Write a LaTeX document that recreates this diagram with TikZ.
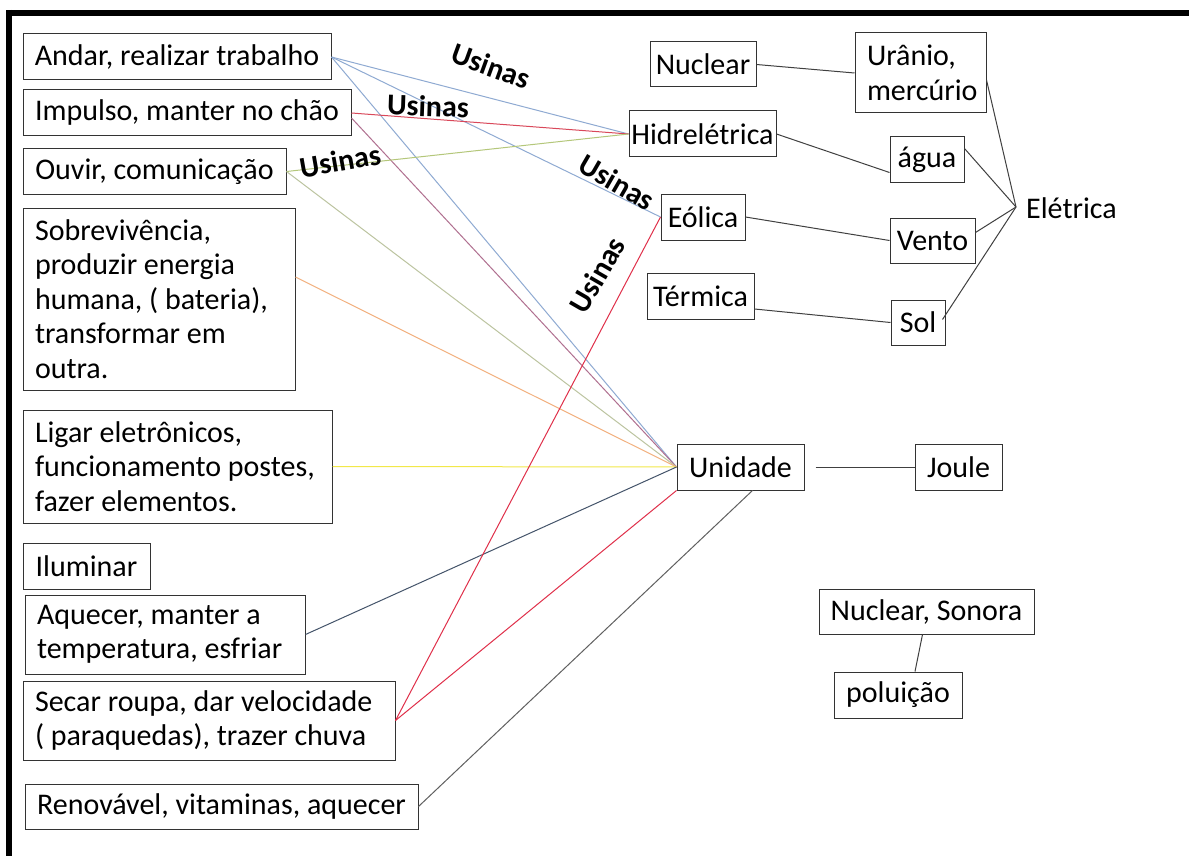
\documentclass[tikz,border=0pt]{standalone}
\usepackage{fontspec}
\setmainfont{Carlito}
\definecolor{blueL}{HTML}{8FAAD2}
\definecolor{redL}{HTML}{D9485A}
\definecolor{redS}{HTML}{E0304A}
\definecolor{roseL}{HTML}{B07090}
\definecolor{greenL}{HTML}{B4C77A}
\definecolor{greenG}{HTML}{BCC4A0}
\definecolor{orangeL}{HTML}{F2B07E}
\definecolor{yellowL}{HTML}{F2E84A}
\definecolor{darkB}{HTML}{44546A}
\definecolor{grayL}{HTML}{606060}
\definecolor{lineK}{HTML}{404040}
\begin{document}
\begin{tikzpicture}[x=1pt,y=-1pt,
  box/.style={draw=black!80, line width=1pt, rectangle, inner sep=0pt,
    font=\fontsize{30}{34.5}\selectfont},
  mbox/.style={box, align=flush left, execute at begin node={\spaceskip=0pt\xspaceskip=0pt\relax}},
  lab/.style={inner sep=0pt, font=\fontsize{30}{34}\selectfont\bfseries},
  conn/.style={line width=1pt}
]
\useasboundingbox (0,0) rectangle (1189,856);
\fill[white] (0,0) rectangle (1189,856);
% frame
\draw[line width=6pt] (6,13) -- (1189,13);
\draw[line width=6pt] (9,10) -- (9,856);

% left boxes
\node[box, minimum width=308, minimum height=46] (andar) at (177,57) {Andar, realizar trabalho};
\node[box, minimum width=328, minimum height=46] (impulso) at (187,113) {Impulso, manter no chão};
\node[box, minimum width=263, minimum height=45] (ouvir) at (154.5,171.5) {Ouvir, comunicação};
\node[mbox, minimum width=272, minimum height=182, text width=248] (sob) at (159,299) {Sobrevivência,\\produzir energia\\humana, ( bateria),\\transformar em\\outra.};
\node[mbox, minimum width=309, minimum height=113, text width=285] (ligar) at (177.5,466.5) {Ligar eletrônicos,\\funcionamento postes,\\fazer elementos.};
\node[box, minimum width=127, minimum height=46] (ilum) at (86.5,566) {Iluminar};
\node[mbox, minimum width=280, minimum height=79, text width=256] (aquecer) at (165,634.5) {Aquecer, manter a\\temperatura, esfriar};
\node[mbox, minimum width=372, minimum height=79, text width=348] (secar) at (209,720.5) {Secar roupa, dar velocidade\\( paraquedas), trazer chuva};
\node[box, minimum width=393, minimum height=45] (renov) at (221.5,806.5) {Renovável, vitaminas, aquecer};

% right boxes
\node[box, minimum width=106, minimum height=45] (nuclear) at (703,64.5) {Nuclear};
\node[mbox, minimum width=131, minimum height=80, text width=107] (uranio) at (920.5,73) {Urânio,\\mercúrio};
\node[box, minimum width=147, minimum height=46] (hidro) at (702.5,134) {Hidrelétrica};
\node[box, minimum width=74, minimum height=45] (agua) at (927,159.5) {água};
\node[box, minimum width=84, minimum height=46] (eolica) at (703,217) {Eólica};
\node[box, minimum width=85, minimum height=45] (vento) at (932.5,240.5) {Vento};
\node[box, minimum width=107, minimum height=46] (termica) at (700.5,296) {Térmica};
\node[box, minimum width=54, minimum height=45] (sol) at (918,322.5) {Sol};
\node[inner sep=0pt, font=\fontsize{30}{34}\selectfont, anchor=west] (eletrica) at (1026,208) {Elétrica};
\coordinate (ej) at (1016,207);
\node[box, minimum width=127, minimum height=46] (unidade) at (740.5,467) {Unidade};
\node[box, minimum width=87, minimum height=46] (joule) at (958.5,467) {Joule};
\node[box, minimum width=215, minimum height=45] (nucson) at (926.5,611.5) {Nuclear, Sonora};
\node[box, minimum width=128, minimum height=46] (polu) at (898,695) {poluição};

% black connectors
\draw[conn, lineK] (nuclear.east) -- (uranio.west);
\draw[conn, lineK] (hidro.east) -- ([yshift=-13pt]agua.west);
\draw[conn, lineK] (eolica.east) -- (vento.west);
\draw[conn, lineK] ([yshift=-13pt]termica.east) -- (sol.west);
\draw[conn, lineK] ([yshift=-7pt]uranio.east) -- (ej);
\draw[conn, lineK] ([yshift=11pt]agua.east) -- (ej);
\draw[conn, lineK] ([yshift=8pt]vento.east) -- (ej);
\draw[conn, lineK] ([xshift=-3pt,yshift=3pt]sol.east) -- (ej);
\draw[conn, lineK] ([xshift=11pt]unidade.east) -- (joule.west);
\draw[conn, lineK] ([xshift=-4pt]nucson.south) -- ([xshift=17pt]polu.north);

% coloured connectors
\draw[conn, blueL] (andar.east) -- (hidro.west);
\draw[conn, blueL] (andar.east) -- (eolica.west);
\draw[conn, blueL] (andar.east) -- (unidade.west);
\draw[conn, redL] (impulso.east) -- (hidro.west);
\draw[conn, roseL] ([yshift=-5pt]impulso.east) -- (unidade.west);
\draw[conn, greenL] (ouvir.east) -- (hidro.west);
\draw[conn, greenG] (ouvir.east) -- (unidade.west);
\draw[conn, orangeL] ([yshift=22pt]sob.east) -- (unidade.west);
\draw[conn, yellowL] (ligar.east) -- (unidade.west);
\draw[conn, darkB] (aquecer.east) -- (unidade.west);
\draw[conn, redS] (secar.east) -- (eolica.west);
\draw[conn, redS] (secar.east) -- (unidade.south west);
\draw[conn, grayL] (renov.east) -- ([xshift=12pt]unidade.south);

% labels
\node[lab, rotate=-20] (us1) at (491,66) {Usinas};
\node[lab, rotate=-2] (us2) at (428,106) {Usinas};
\node[lab, rotate=10] (us3) at (340,161) {Usinas};
\node[lab, rotate=-30] (us4) at (617,182) {Usinas};
\node[lab, rotate=60] (us5) at (597,275) {Usinas};
\end{tikzpicture}
\end{document}
